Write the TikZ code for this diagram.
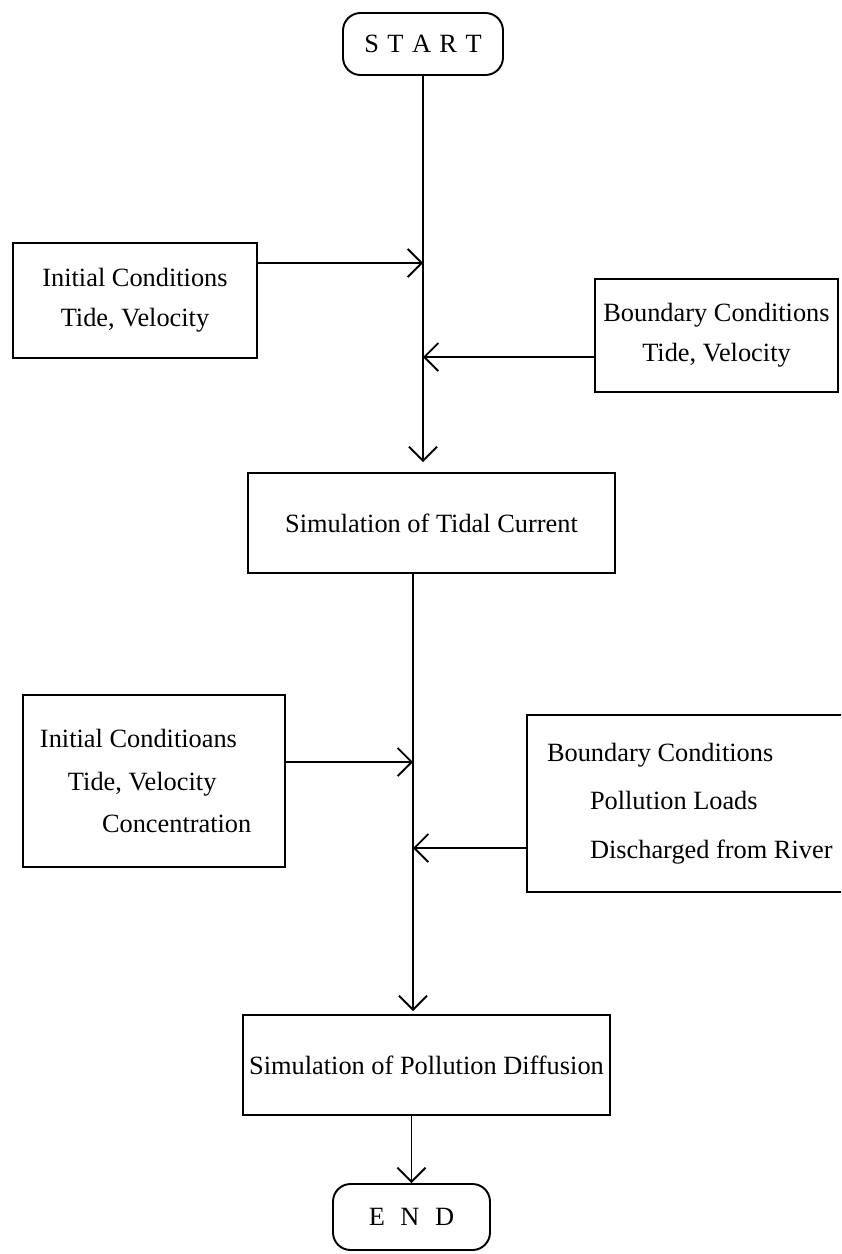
\documentclass[tikz,border=0pt]{standalone}
\usepackage{fontspec}
\setmainfont{Liberation Serif}
\usetikzlibrary{arrows.meta}

\begin{document}
\begin{tikzpicture}[>=Latex,
  term/.style={rounded corners=10pt,draw,line width=1.1pt,minimum width=3.2cm,
    minimum height=1.24cm,inner sep=2pt,font=\fontsize{15}{18}\selectfont},
  box/.style={draw,line width=1.1pt,inner sep=3pt,
    font=\fontsize{15}{22.7}\selectfont},
  a/.style={-{Straight Barb[length=2.8mm,width=5.6mm]},line width=1.1pt}]
\useasboundingbox (0,0) rectangle (16.82,-25.08);
\clip (0,0) rectangle (16.82,-25.08);
\node[term] (start) at (8.46,-0.88)
  {S\hspace{0.32em}T\hspace{0.32em}A\hspace{0.32em}R\hspace{0.32em}T};
\node[box,align=center,minimum width=4.88cm,minimum height=2.30cm] (init1) at (2.70,-6.01)
  {Initial Conditions\\Tide, Velocity};
\node[box,align=center,minimum width=4.86cm,minimum height=2.26cm] (bound1) at (14.33,-6.71)
  {Boundary Conditions\\Tide, Velocity};
\node[box,minimum width=7.34cm,minimum height=2.0cm] (tidal) at (8.63,-10.46)
  {Simulation of Tidal Current};
\coordinate (j1) at (8.46,-5.26);
\coordinate (j2) at (8.46,-7.14);
\draw[a,shorten >=2mm] (start) -- (start |- tidal.north);
\draw[a] (init1.east |- j1) -- (j1);
\draw[a] (bound1.west |- j2) -- (j2);

\node[box,align=flush left,inner xsep=0.34cm,text width=4.56cm,minimum height=3.44cm] (init2) at (3.08,-15.62)
  {Initial Conditioans\\[1.7pt]\hspace*{0.56cm}Tide, Velocity\\[1.7pt]\hspace*{1.24cm}Concentration};
\node[box,align=flush left,inner xsep=0.4cm,text width=5.96cm,minimum height=3.54cm] (bound2) at (13.92,-16.07)
  {Boundary Conditions\\[5pt]\hspace*{0.86cm}Pollution Loads\\[5pt]\hspace*{0.86cm}Discharged from River};
\node[box,minimum width=7.34cm,minimum height=2.0cm] (poll) at (8.53,-21.30)
  {Simulation of Pollution Diffusion};
\node[term,minimum width=3.14cm,minimum height=1.32cm] (end) at (8.23,-24.34)
  {E\hspace{0.59em}N\hspace{0.59em}D};
\coordinate (j3) at (8.26,-15.24);
\coordinate (j4) at (8.26,-16.96);
\draw[a,shorten >=0.6mm] (tidal.south -| j3) -- (poll.north -| j3);
\draw[a] (init2.east |- j3) -- (j3);
\draw[a] (bound2.west |- j4) -- (j4);
\draw[a] (poll.south -| end.north) -- (end.north);
\end{tikzpicture}
\end{document}
